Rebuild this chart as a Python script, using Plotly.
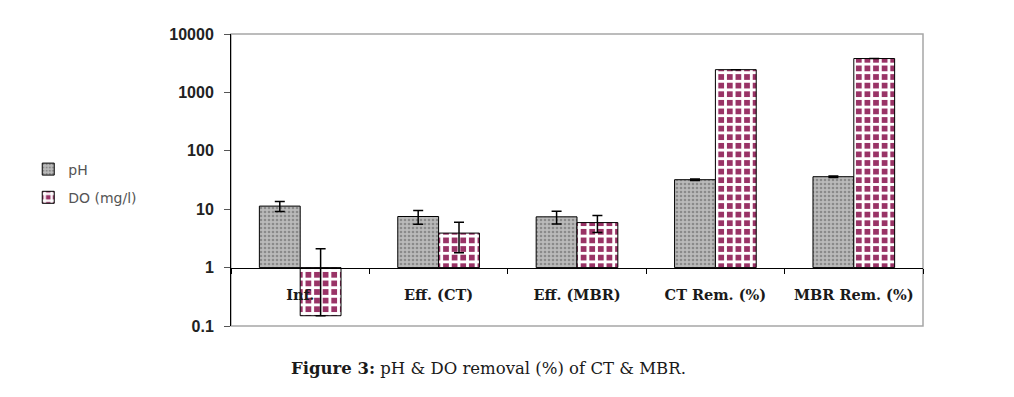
import plotly.graph_objects as go

categories = ["Inf.", "Eff. (CT)", "Eff. (MBR)", "CT Rem. (%)", "MBR Rem. (%)"]
ph_values = [11.3, 7.5, 7.4, 32.0, 36.0]
ph_err = [2.2, 2.0, 1.8, 1.0, 1.0]
do_values = [0.15, 3.9, 5.9, 2450.0, 3800.0]
do_err_plus = [1.95, 2.1, 1.9, 0.0, 0.0]
do_err_minus = [0.0, 2.1, 1.9, 0.0, 0.0]
y_tickvals = [0.1, 1, 10, 100, 1000, 10000]
y_ticktext = ["0.1", "1", "10", "100", "1000", "10000"]
baseline = 1.0
y_range_log = [-1, 4]

fig = go.Figure()

fig.add_trace(go.Bar(
    name="pH", x=categories,
    y=[v - baseline for v in ph_values], base=baseline,
    marker=dict(color="#b4b4b4", line=dict(color="black", width=1),
                pattern=dict(shape=".", fillmode="replace", bgcolor="#bababa",
                             fgcolor="#8a8a8a", size=4, solidity=0.35)),
    error_y=dict(type="data", array=ph_err, color="black", thickness=1.5, width=5),
    legendgroup="a",
))
fig.add_trace(go.Bar(
    name="DO (mg/l)", x=categories,
    y=[v - baseline for v in do_values], base=baseline,
    marker=dict(color="#993366", line=dict(color="black", width=1),
                pattern=dict(shape="+", fillmode="replace", bgcolor="#993366",
                             fgcolor="white", size=8.6, solidity=0.55)),
    error_y=dict(type="data", symmetric=False, array=do_err_plus,
                 arrayminus=do_err_minus, color="black", thickness=1.5, width=5),
    legendgroup="b",
))

x_axis_pos = (0 - y_range_log[0]) / (y_range_log[1] - y_range_log[0])

fig.update_layout(
    template="none",
    width=1006, height=389,
    margin=dict(l=223, r=91, t=26, b=71, autoexpand=False),
    paper_bgcolor="white", plot_bgcolor="white",
    barmode="group", bargap=0.41, bargroupgap=0,
    showlegend=True,
    legend=dict(x=-0.293, y=0.488, xanchor="left", yanchor="middle",
                font=dict(family="DejaVu Sans", size=14, color="#555555"),
                tracegroupgap=7, bgcolor="rgba(0,0,0,0)", borderwidth=0),
    xaxis=dict(type="category", anchor="free", position=x_axis_pos, automargin=False,
               showline=True, linecolor="black", linewidth=1,
               ticks="outside", tickson="boundaries", ticklen=5, tickcolor="black",
               ticklabelstandoff=14, showgrid=False, zeroline=False,
               tickfont=dict(family="DejaVu Serif", size=14.5, color="#1a1a1a", weight="bold")),
    yaxis=dict(type="log", range=y_range_log, tickvals=y_tickvals, ticktext=y_ticktext,
               automargin=False,
               showline=True, linecolor="black", linewidth=1,
               ticks="outside", ticklen=6, tickcolor="#555555",
               showgrid=False, zeroline=False, ticklabelstandoff=7,
               tickfont=dict(family="Liberation Sans", size=16, color="#222222", weight="bold")),
    shapes=[dict(type="rect", xref="x domain", yref="y domain", x0=0, x1=1, y0=0, y1=1,
                 line=dict(color="#a6a6a6", width=1.5), layer="below")],
    annotations=[dict(text="<b>Figure 3:</b> pH &amp; DO removal (%) of CT &amp; MBR.",
                      xref="paper", yref="paper", x=0.372, y=-0.147,
                      xanchor="center", yanchor="middle", showarrow=False,
                      font=dict(family="DejaVu Serif", size=16.5, color="#1a1a1a"))],
)

fig.write_html("out.html")
